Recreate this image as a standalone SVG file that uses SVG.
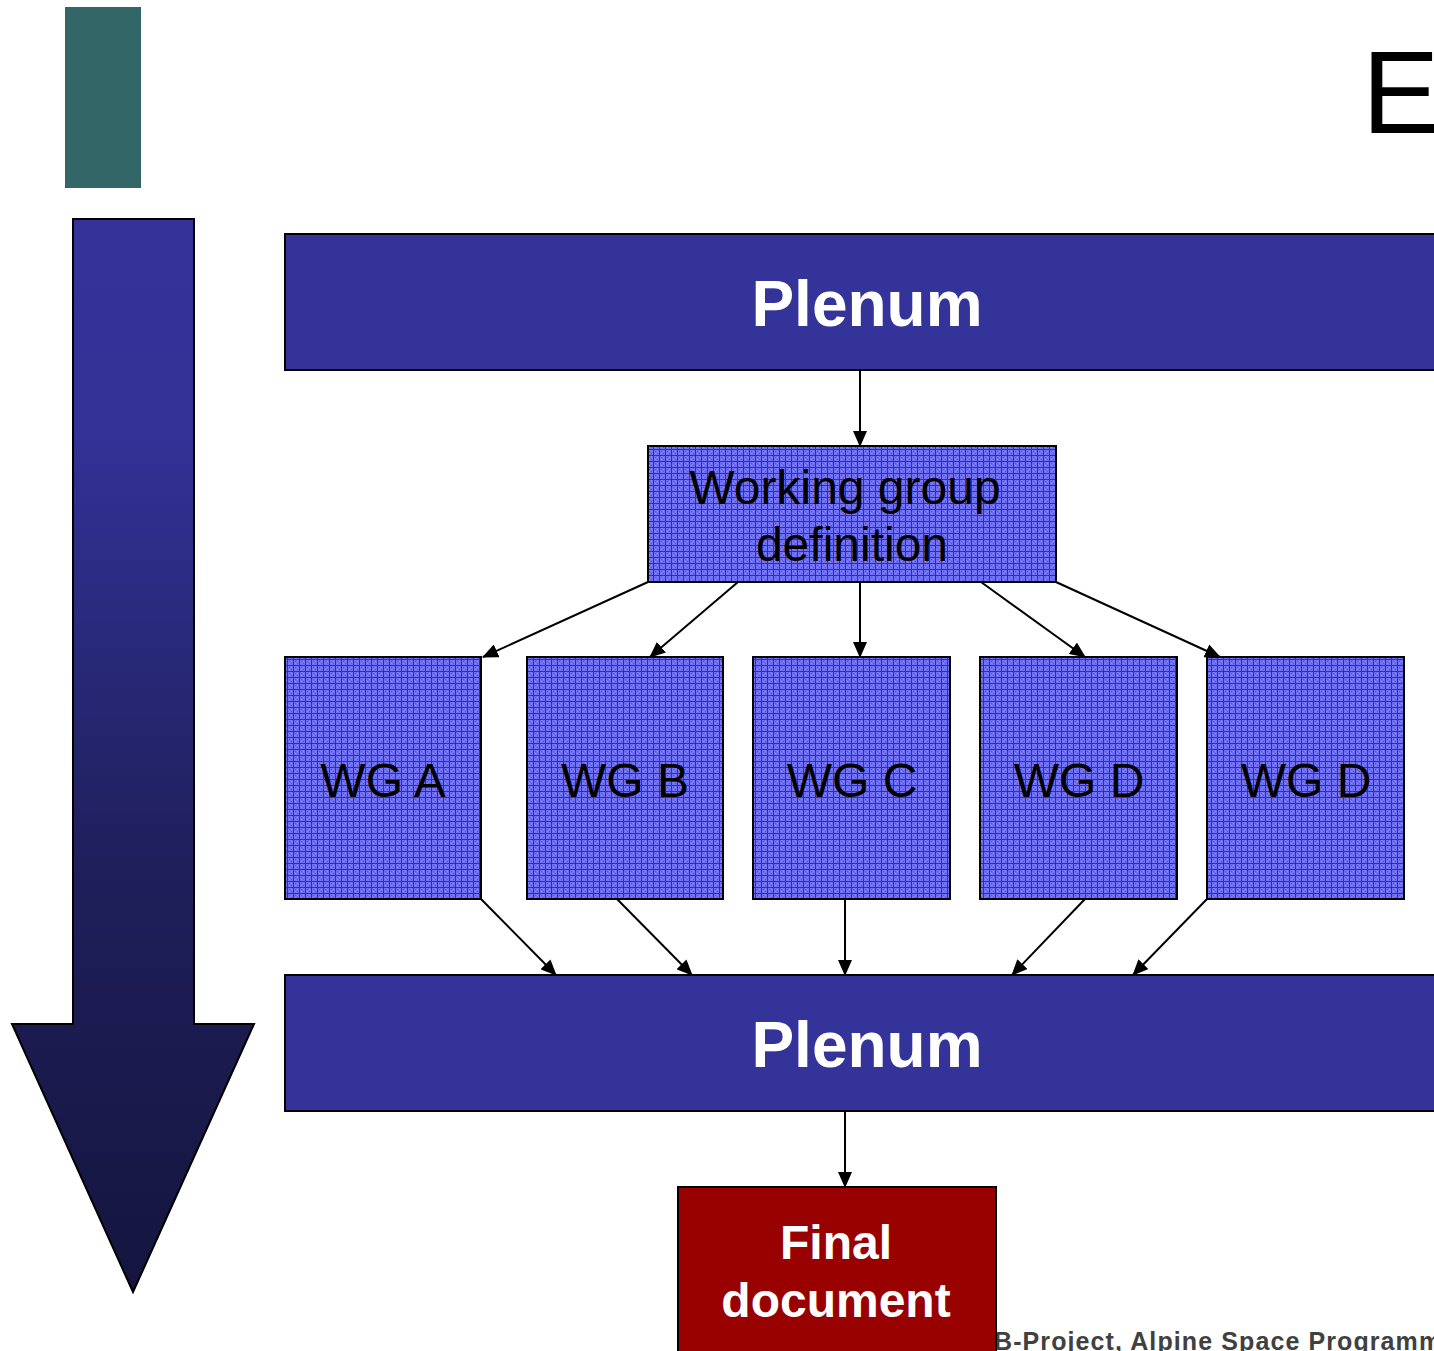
<svg xmlns="http://www.w3.org/2000/svg" width="1434" height="1351" viewBox="0 0 1434 1351">
<style>
.box{stroke:#000;stroke-width:2}
.plenum{fill:#333399}
.wg{fill:url(#grid)}
.t{font-family:"Liberation Sans",Arial,sans-serif;text-anchor:middle}
.wt{font-size:48px;fill:#000}
.pt{font-size:64px;font-weight:bold;fill:#fff}
.ft{font-size:48px;font-weight:bold;fill:#fff}
.conn line{stroke:#000;stroke-width:2;marker-end:url(#ah)}
</style>
<defs>
<pattern id="grid" width="6" height="6" patternUnits="userSpaceOnUse">
<rect width="6" height="6" fill="#7070f4"/>
<rect x="1" y="1" width="1" height="1" fill="#5050fa"/>
<rect x="3" y="3" width="1" height="1" fill="#5050fa"/>
<rect x="3" y="1" width="1" height="1" fill="#8a8af2"/>
<rect x="1" y="3" width="1" height="1" fill="#8a8af2"/>
<rect x="5" y="0" width="1" height="6" fill="#2626f8"/>
<rect x="0" y="5" width="6" height="1" fill="#2626f8"/>
</pattern>
<linearGradient id="ag" x1="0" y1="219" x2="0" y2="1292" gradientUnits="userSpaceOnUse">
<stop offset="0" stop-color="#333399"/>
<stop offset="0.2" stop-color="#323297"/>
<stop offset="0.6" stop-color="#1f1f5c"/>
<stop offset="1" stop-color="#15153f"/>
</linearGradient>
<marker id="ah" markerWidth="16" markerHeight="14" refX="15" refY="7" orient="auto" markerUnits="userSpaceOnUse">
<path d="M0,0 L16,7 L0,14 Z" fill="#000"/>
</marker>
</defs>
<rect id="teal" x="65" y="7" width="76" height="181" fill="#336666"/>
<path id="time-arrow" d="M73,219 H194 V1024 H254 L133,1292 L12,1024 H73 Z" fill="url(#ag)" stroke="#000" stroke-width="2"/>
<text x="1362" y="133" style="font-family:'Liberation Sans',Arial,sans-serif;font-size:116px" fill="#000">E</text>
<g class="conn">
<line x1="860" y1="371" x2="860" y2="446"/>
<line x1="648" y1="582" x2="483" y2="657"/>
<line x1="738" y1="582" x2="650" y2="657"/>
<line x1="860" y1="582" x2="860" y2="657"/>
<line x1="981" y1="582" x2="1085" y2="657"/>
<line x1="1056" y1="582" x2="1220" y2="657"/>
<line x1="481" y1="899" x2="556" y2="975"/>
<line x1="617" y1="899" x2="692" y2="975"/>
<line x1="845" y1="899" x2="845" y2="975"/>
<line x1="1085" y1="899" x2="1012" y2="975"/>
<line x1="1207" y1="899" x2="1133" y2="975"/>
<line x1="845" y1="1111" x2="845" y2="1187"/>
</g>
<g id="plenum1"><rect class="box plenum" x="285" y="234" width="1160" height="136"/><text class="t pt" x="867" y="326">Plenum</text></g>
<g id="wgdef"><rect class="box wg" x="648" y="446" width="408" height="136"/><text class="t wt" x="845" y="504">Working group</text><text class="t wt" x="852" y="561">definition</text></g>
<g id="wga"><rect class="box wg" x="285" y="657" width="196" height="242"/><text class="t wt" x="383" y="797">WG A</text></g>
<g id="wgb"><rect class="box wg" x="527" y="657" width="196" height="242"/><text class="t wt" x="625" y="797">WG B</text></g>
<g id="wgc"><rect class="box wg" x="753" y="657" width="197" height="242"/><text class="t wt" x="852" y="797">WG C</text></g>
<g id="wgd"><rect class="box wg" x="980" y="657" width="197" height="242"/><text class="t wt" x="1079" y="797">WG D</text></g>
<g id="wgd2"><rect class="box wg" x="1207" y="657" width="197" height="242"/><text class="t wt" x="1306" y="797">WG D</text></g>
<g id="plenum2"><rect class="box plenum" x="285" y="975" width="1160" height="136"/><text class="t pt" x="867" y="1067">Plenum</text></g>
<text x="994" y="1350" style="font-family:'Liberation Sans',Arial,sans-serif;font-size:25px;font-weight:bold;letter-spacing:1.1px" fill="#404040">B-Project, Alpine Space Programme</text>
<g id="final"><rect class="box" x="678" y="1187" width="318" height="180" fill="#990000"/><text class="t ft" x="836" y="1259">Final</text><text class="t ft" x="836" y="1317">document</text></g>
</svg>
